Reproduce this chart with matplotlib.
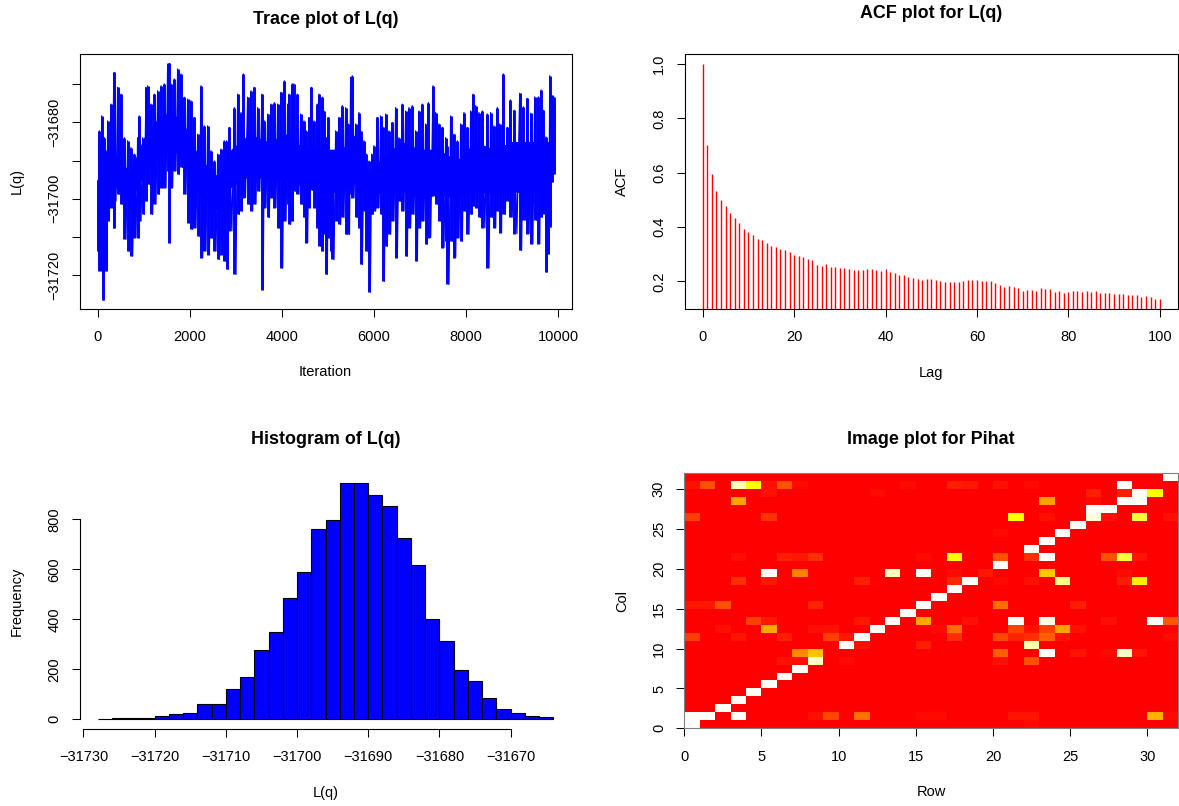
import numpy as np
import matplotlib
matplotlib.use("Agg")
import matplotlib.pyplot as plt
from matplotlib.colors import LinearSegmentedColormap

plt.rcParams['font.family'] = ['Liberation Sans', 'DejaVu Sans']

W, H = 1179, 806

# ---- chain of L(q): local highs / lows along the iterations ----
trace_iter = [1, 37, 88, 117, 146, 182, 218, 291, 349, 363,
              436, 508, 580, 653, 725, 798, 870, 906, 979, 1051,
              1087, 1160, 1232, 1304, 1377, 1449, 1522, 1558, 1594, 1666,
              1739, 1811, 1884, 1956, 2028, 2101, 2173, 2246, 2318, 2390,
              2463, 2535, 2608, 2680, 2752, 2803, 2861, 2970, 3042, 3114,
              3165, 3259, 3332, 3404, 3476, 3571, 3621, 3694, 3766, 3838,
              3911, 3983, 4056, 4128,
              4157, 4229, 4266, 4338, 4410, 4483, 4533, 4591, 4642, 4700,
              4772, 4809, 4881, 4917, 4968, 5011, 5062, 5098, 5171, 5243,
              5315, 5388, 5446, 5496, 5533, 5605, 5677, 5714, 5786, 5837,
              5895, 5953, 6003, 6076, 6148, 6199, 6257, 6329, 6401, 6474,
              6546, 6619, 6691, 6763, 6836, 6908, 6981, 7053, 7125, 7183,
              7285, 7343, 7415, 7487, 7560, 7596, 7668, 7741, 7813, 7886,
              7958, 8030, 8103, 8153, 8211, 8284, 8356, 8465, 8537, 8610,
              8682, 8733, 8812, 8899,
              8964, 9046, 9168, 9249, 9331, 9412, 9494, 9575, 9632, 9681,
              9738, 9779, 9820, 9860, 9909]

trace_high = [-31695.3, -31682.2, -31678.3, -31684.8, -31684.0, -31687.4, -31679.6, -31675.2, -31670.8, -31666.9,
              -31670.8, -31672.6, -31684.0, -31684.8, -31686.6, -31688.3, -31684.0, -31678.3, -31684.0, -31670.8,
              -31670.4, -31675.2, -31672.6, -31671.7, -31670.4, -31669.9, -31664.7, -31664.5, -31669.9, -31668.6,
              -31666.0, -31667.3, -31673.4, -31673.9, -31674.3, -31678.7, -31683.1, -31670.4, -31680.9, -31680.9,
              -31687.4, -31690.1, -31688.3, -31687.0, -31684.8, -31684.8, -31681.3, -31676.1, -31672.6, -31677.4,
              -31667.3, -31673.4, -31671.7, -31670.8, -31676.1, -31672.6, -31679.6, -31677.8, -31675.2, -31674.8,
              -31675.2, -31672.1, -31669.1, -31675.2,
              -31672.6, -31669.9, -31669.9, -31672.6, -31677.8, -31679.6, -31682.2, -31678.7, -31670.8, -31679.6,
              -31675.2, -31672.6, -31673.4, -31677.0, -31684.0, -31678.7, -31688.3, -31687.4, -31682.2, -31678.7,
              -31675.6, -31676.1, -31680.4, -31668.2, -31667.8, -31680.4, -31677.4, -31682.2, -31684.8, -31688.3,
              -31690.1, -31688.3, -31686.1, -31678.7, -31678.3, -31681.3, -31677.8, -31682.2, -31680.0, -31676.1,
              -31684.0, -31675.2, -31677.0, -31676.1, -31675.6, -31682.2, -31677.0, -31675.2, -31680.4, -31674.8,
              -31670.4, -31677.4, -31680.4, -31681.3, -31684.0, -31686.1, -31678.3, -31683.1, -31684.8, -31680.4,
              -31677.4, -31681.3, -31677.0, -31672.6, -31675.6, -31677.4, -31677.0, -31677.8, -31677.4, -31680.9,
              -31676.1, -31680.4, -31667.3, -31681.3,
              -31674.1, -31676.8, -31672.4, -31675.9, -31673.7, -31677.6, -31673.3, -31673.3, -31671.5, -31676.8,
              -31683.8, -31685.5, -31667.8, -31672.8, -31673.3]

trace_low = [-31713.7, -31718.9, -31718.9, -31726.6, -31718.1, -31718.9, -31705.8, -31702.3, -31707.7, -31700.6,
             -31698.8, -31701.4, -31710.6, -31713.7, -31715.0, -31710.2, -31710.2, -31705.8, -31704.1, -31700.6,
             -31696.2, -31704.1, -31701.4, -31698.8, -31697.1, -31697.1, -31692.7, -31711.5, -31697.1, -31692.7,
             -31693.6, -31691.8, -31698.8, -31706.3, -31708.0, -31707.6, -31709.8, -31715.4, -31713.7, -31714.6,
             -31710.2, -31713.7, -31715.9, -31714.6, -31716.3, -31718.5, -31708.4, -31719.8, -31704.1, -31703.2,
             -31699.7, -31701.4, -31703.2, -31701.4, -31698.0, -31723.8, -31702.3, -31704.9, -31699.7, -31702.3,
             -31707.6, -31718.1, -31705.8, -31701.4,
             -31706.7, -31705.8, -31698.0, -31698.8, -31701.4, -31704.9, -31711.5, -31702.3, -31697.1, -31702.3,
             -31707.6, -31712.4, -31713.7, -31709.3, -31719.8, -31710.2, -31713.7, -31715.9, -31705.8, -31706.7,
             -31704.9, -31709.3, -31709.3, -31698.8, -31699.7, -31704.9, -31707.6, -31717.2, -31703.2, -31713.7,
             -31724.4, -31704.1, -31703.2, -31702.3, -31704.1, -31721.6, -31712.4, -31709.3, -31705.8, -31715.4,
             -31700.6, -31703.2, -31715.0, -31707.6, -31704.1, -31716.3, -31707.6, -31705.8, -31711.9, -31710.2,
             -31697.1, -31701.4, -31705.8, -31712.8, -31711.1, -31722.4, -31711.1, -31715.4, -31710.2, -31711.1,
             -31703.2, -31709.3, -31704.1, -31701.9, -31702.3, -31704.9, -31707.6, -31718.1, -31704.9, -31707.6,
             -31703.2, -31708.9, -31704.1, -31700.6,
             -31704.8, -31709.1, -31713.5, -31705.6, -31709.1, -31711.8, -31705.6, -31711.8, -31704.8, -31703.9,
             -31719.2, -31714.4, -31707.4, -31695.6, -31693.4]

# narrow band where the chain is visited densely
core_iter = [1, 300, 700, 1000, 1300, 1600, 1900, 2200, 2600, 2900, 3300, 3700, 4100,
             4500, 4900, 5300, 5600, 5900, 6200, 6600, 7000, 7400, 7800, 8200, 8600,
             9000, 9400, 9900]
core_high = [-31696, -31687, -31693, -31684, -31679, -31677, -31681, -31689, -31694, -31687,
             -31683, -31685, -31683, -31687, -31687, -31687, -31683, -31693, -31689, -31685,
             -31687, -31687, -31690, -31685, -31687, -31685, -31685, -31685]
core_low = [-31703, -31696, -31701, -31694, -31690, -31687, -31690, -31699, -31703, -31697,
            -31694, -31695, -31695, -31697, -31699, -31698, -31696, -31700, -31698, -31698,
            -31700, -31699, -31700, -31698, -31699, -31698, -31699, -31693]

# ---- autocorrelation of L(q), lags 0..100 ----
acf_vals = [1.000, 0.702, 0.594, 0.533, 0.499, 0.477, 0.453, 0.434, 0.415, 0.391,
            0.381, 0.372, 0.357, 0.354, 0.342, 0.331, 0.326, 0.319, 0.315, 0.308,
            0.298, 0.294, 0.288, 0.282, 0.278, 0.261, 0.257, 0.265, 0.254, 0.254,
            0.251, 0.248, 0.245, 0.240, 0.240, 0.241, 0.246, 0.246, 0.241, 0.238,
            0.246, 0.236, 0.230, 0.224, 0.223, 0.217, 0.212, 0.207, 0.206, 0.208,
            0.208, 0.206, 0.200, 0.199, 0.199, 0.196, 0.199, 0.202, 0.205, 0.206,
            0.205, 0.200, 0.203, 0.202, 0.194, 0.185, 0.179, 0.184, 0.181, 0.175,
            0.165, 0.169, 0.169, 0.165, 0.176, 0.173, 0.171, 0.162, 0.163, 0.158,
            0.162, 0.165, 0.165, 0.162, 0.164, 0.162, 0.165, 0.158, 0.158, 0.157,
            0.153, 0.155, 0.152, 0.151, 0.148, 0.148, 0.143, 0.145, 0.142, 0.136,
            0.136]

# ---- histogram of L(q): bins of width 2 from -31728 to -31664 ----
hist_start = -31728
hist_width = 2
hist_counts = [2, 4, 4, 6, 13, 22, 25, 60, 63, 121, 171, 276, 351, 485, 588, 761,
               799, 944, 945, 896, 852, 725, 616, 403, 313, 197, 152, 85, 41, 24, 12, 9]

# ---- Pihat (32 x 32): cells above the background level, (row, col, value) ----
pihat_cells = [
    (0, 0, 1.0), (22, 0, 0.03),
    (0, 1, 1.0), (1, 1, 1.0), (3, 1, 1.0), (8, 1, 0.05), (9, 1, 0.21), (11, 1, 0.33),
    (15, 1, 0.03), (16, 1, 0.03), (21, 1, 0.06), (22, 1, 0.06), (30, 1, 0.52), (31, 1, 0.03),
    (2, 2, 1.0), (3, 3, 1.0), (4, 4, 1.0), (5, 5, 1.0), (6, 6, 1.0), (7, 7, 1.0),
    (6, 8, 0.05), (7, 8, 0.04), (8, 8, 0.94), (10, 8, 0.03), (20, 8, 0.05), (22, 8, 0.24),
    (7, 9, 0.40), (8, 9, 0.57), (20, 9, 0.28), (23, 9, 1.0), (25, 9, 0.06), (27, 9, 0.03),
    (28, 9, 0.95), (29, 9, 0.06),
    (10, 10, 1.0), (11, 10, 0.05), (15, 10, 0.09), (22, 10, 0.92),
    (0, 11, 0.19), (3, 11, 0.06), (6, 11, 0.09), (9, 11, 0.19), (10, 11, 0.07), (11, 11, 1.0),
    (17, 11, 0.14), (20, 11, 0.21), (21, 11, 0.10), (22, 11, 0.14), (23, 11, 0.28),
    (24, 11, 0.05), (31, 11, 0.03),
    (2, 12, 0.04), (5, 12, 0.49), (8, 12, 0.04), (9, 12, 0.05), (12, 12, 1.0), (16, 12, 0.03),
    (17, 12, 0.33), (21, 12, 0.19), (22, 12, 0.05), (23, 12, 0.19), (24, 12, 0.48), (25, 12, 0.05),
    (4, 13, 0.19), (5, 13, 0.07), (11, 13, 0.07), (13, 13, 1.0), (15, 13, 0.49), (18, 13, 0.05),
    (21, 13, 1.0), (23, 13, 0.98), (27, 13, 0.05), (30, 13, 1.0), (31, 13, 0.26),
    (14, 14, 1.0),
    (0, 15, 0.07), (1, 15, 0.07), (2, 15, 0.24), (8, 15, 0.11), (15, 15, 1.0), (20, 15, 0.33),
    (25, 15, 0.09),
    (16, 16, 1.0), (17, 17, 1.0),
    (3, 18, 0.14), (5, 18, 0.07), (11, 18, 0.09), (17, 18, 0.11), (18, 18, 1.0), (20, 18, 0.03),
    (22, 18, 0.05), (24, 18, 0.875), (28, 18, 0.09), (29, 18, 0.70),
    (5, 19, 1.0), (7, 19, 0.38), (13, 19, 0.94), (15, 19, 1.0), (17, 19, 0.03), (19, 19, 0.07),
    (23, 19, 0.59), (28, 19, 0.03),
    (20, 20, 1.0),
    (3, 21, 0.04), (6, 21, 0.09), (7, 21, 0.07), (8, 21, 0.14), (15, 21, 0.03), (17, 21, 0.75),
    (20, 21, 0.24), (22, 21, 0.14), (23, 21, 1.0), (27, 21, 0.24), (28, 21, 0.81), (29, 21, 0.06),
    (22, 22, 1.0), (23, 23, 1.0), (20, 24, 0.03), (24, 24, 1.0), (25, 25, 1.0),
    (0, 26, 0.19), (5, 26, 0.15), (21, 26, 0.75), (23, 26, 0.04), (26, 26, 0.97), (27, 26, 0.05),
    (29, 26, 0.81), (31, 26, 0.05),
    (26, 27, 1.0), (27, 27, 1.0),
    (3, 28, 0.48), (23, 28, 0.47), (26, 28, 0.03), (28, 28, 1.0), (29, 28, 1.0),
    (5, 29, 0.05), (12, 29, 0.03), (26, 29, 0.09), (28, 29, 0.09), (29, 29, 1.0), (30, 29, 0.75),
    (0, 30, 0.05), (1, 30, 0.24), (3, 30, 0.93), (4, 30, 0.75), (5, 30, 0.05), (6, 30, 0.24),
    (7, 30, 0.03), (14, 30, 0.03), (17, 30, 0.09), (18, 30, 0.07), (20, 30, 0.05), (22, 30, 0.03),
    (28, 30, 1.0),
    (31, 31, 1.0),
]

TITLE = 12.9
LAB = 10.5
MINUS = '\u2212'

fig = plt.figure(figsize=(W / 100, H / 100), dpi=100)


def place(x0, x1, y0, y1):
    # axes box given in pixels from the top-left corner
    return fig.add_axes([x0 / W, 1 - y1 / H, (x1 - x0) / W, (y1 - y0) / H])


def ptext(x, y, s, **kw):
    fig.text(x / W, 1 - y / H, s, ha='center', **kw)


def style(ax, lw=0.8):
    ax.tick_params(direction='out', length=6, width=0.75, labelsize=LAB, colors='black')
    ax.tick_params(axis='x', pad=9.5)
    ax.tick_params(axis='y', pad=7.2)
    for s in ax.spines.values():
        s.set_linewidth(lw)


def rotate_yticks(ax):
    for t in ax.get_yticklabels():
        t.set_rotation(90)
        t.set_va('center')


# ---------------- trace plot ----------------
ax1 = place(79.5, 571.5, 54, 308.5)
ax1.fill_between(core_iter, core_low, core_high, color='#0000FF', lw=0)
it = np.array(trace_iter, dtype=float)
mid = np.append((it[:-1] + it[1:]) / 2, it[-1] + 20)
# each stretch swings between its low and its high
ax1.vlines(it, trace_low, trace_high, color='#0000FF', lw=2.1)
xs = np.empty(2 * len(it))
ys = np.empty(2 * len(it))
xs[0::2], xs[1::2] = it, mid
ys[0::2], ys[1::2] = trace_high, trace_low
ax1.plot(xs, ys, color='#0000FF', lw=0.9)
ax1.set_xlim(-393, 10293)
ax1.set_ylim(-31728.74, -31662.07)
ax1.set_xticks(np.arange(0, 10001, 2000))
yt = np.arange(-31720, -31669, 10)
ax1.set_yticks(yt, [(MINUS + str(abs(v))) if v % 20 == 0 else '' for v in yt])
style(ax1)
rotate_yticks(ax1)
ptext(325.5, 24, 'Trace plot of L(q)', fontsize=TITLE, fontweight='bold', va='baseline')
ptext(325.5, 376.5, 'Iteration', fontsize=LAB, va='baseline')
fig.text(16.9 / W, 1 - 181.5 / H, 'L(q)', fontsize=LAB, rotation=90, ha='center', va='center')

# ---------------- ACF ----------------
ax2 = place(684.5, 1178, 54.3, 308.7)
lags = np.arange(len(acf_vals))
ax2.vlines(lags, 0, acf_vals, color='#FF0000', lw=1.0)
ax2.set_xlim(-4, 104)
ax2.set_ylim(0.0994, 1.0357)
ax2.set_xticks(np.arange(0, 101, 20))
ax2.set_yticks([0.2, 0.4, 0.6, 0.8, 1.0], ['0.2', '0.4', '0.6', '0.8', '1.0'])
style(ax2)
rotate_yticks(ax2)
ptext(931, 18.5, 'ACF plot for L(q)', fontsize=TITLE, fontweight='bold', va='baseline')
ptext(931, 376.5, 'Lag', fontsize=LAB, va='baseline')
fig.text(621.9 / W, 1 - 181.5 / H, 'ACF', fontsize=LAB, rotation=90, ha='center', va='center')

# ---------------- histogram ----------------
ax3 = place(79.5, 571.5, 473.6, 728.8)
left_edges = hist_start + hist_width * np.arange(len(hist_counts))
ax3.bar(left_edges, hist_counts, width=hist_width, align='edge',
        color='#0000FF', edgecolor='black', linewidth=0.8)
ax3.set_xlim(-31730.56, -31661.44)
ax3.set_ylim(-37.8, 982.8)
xt = np.arange(-31730, -31669, 10)
ax3.set_xticks(xt, [MINUS + str(abs(v)) for v in xt])
ax3.set_yticks(np.arange(0, 801, 200))
style(ax3)
rotate_yticks(ax3)
ax3.spines['top'].set_visible(False)
ax3.spines['right'].set_visible(False)
ax3.spines['left'].set_bounds(0, 800)
ax3.spines['bottom'].set_bounds(-31730, -31670)
ptext(325.5, 444, 'Histogram of L(q)', fontsize=TITLE, fontweight='bold', va='baseline')
ptext(325.5, 796.5, 'L(q)', fontsize=LAB, va='baseline')
fig.text(16.9 / W, 1 - 601 / H, 'Frequency', fontsize=LAB, rotation=90, ha='center', va='center')

# ---------------- image of Pihat ----------------
n = 32
pihat = np.zeros((n, n))
for r, c, v in pihat_cells:
    pihat[r, c] = v
heat = LinearSegmentedColormap.from_list(
    'heat', [(0.0, '#FF0000'), (0.75, '#FFFF00'), (1.0, '#FFFFFA')])
ax4 = place(684.3, 1178.3, 473.3, 728.3)
ax4.pcolormesh(np.arange(n + 1), np.arange(n + 1), pihat.T, cmap=heat, vmin=0, vmax=1)
ax4.set_xlim(0, n)
ax4.set_ylim(0, n)
ax4.set_xticks(np.arange(0, 31, 5))
ax4.set_yticks(np.arange(0, 31, 5))
style(ax4, lw=0.8)
for s in ax4.spines.values():
    s.set_color('#808080')
rotate_yticks(ax4)
ptext(931, 444, 'Image plot for Pihat', fontsize=TITLE, fontweight='bold', va='baseline')
ptext(931, 796.5, 'Row', fontsize=LAB, va='baseline')
fig.text(621.9 / W, 1 - 601 / H, 'Col', fontsize=LAB, rotation=90, ha='center', va='center')

fig.savefig('out.png', dpi=100)
